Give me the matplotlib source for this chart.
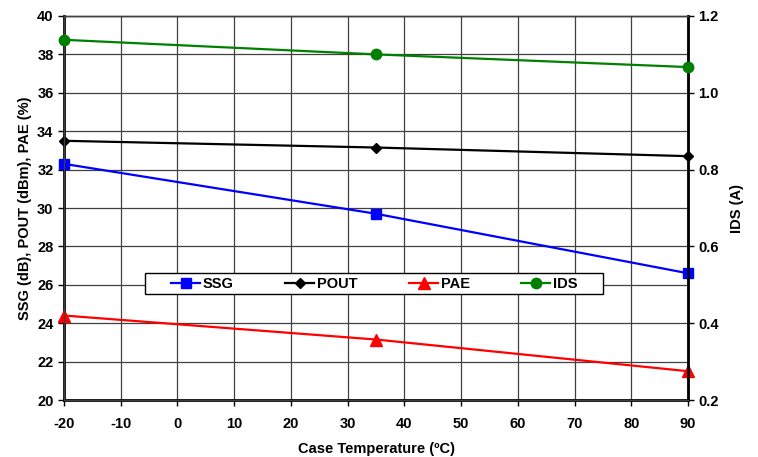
import matplotlib
matplotlib.use("Agg")
import matplotlib.pyplot as plt
from matplotlib.ticker import FormatStrFormatter
from matplotlib.patches import Rectangle

temps = [-20, 35, 90]
ssg = [32.3, 29.7, 26.6]
pout = [33.5, 33.15, 32.7]
pae = [24.4, 23.15, 21.5]
ids = [1.138, 1.10, 1.067]

plt.rcParams['font.family'] = ['Liberation Sans', 'DejaVu Sans']
plt.rcParams['font.weight'] = 'bold'
plt.rcParams['font.size'] = 9
plt.rcParams['axes.unicode_minus'] = False

fig = plt.figure(figsize=(7.58, 4.57), dpi=100)
ax = fig.add_axes([0.0844, 0.1247, 0.8233, 0.8403])
ax2 = ax.twinx()

l1, = ax.plot(temps, ssg, color='#0000FF', marker='s', ms=7, lw=1.6, label='SSG', clip_on=False, zorder=5)
l2, = ax.plot(temps, pout, color='black', marker='D', ms=5.5, lw=1.6, label='POUT', clip_on=False, zorder=5)
l3, = ax.plot(temps, pae, color='#FF0000', marker='^', ms=8, lw=1.6, label='PAE', clip_on=False, zorder=5)
l4, = ax2.plot(temps, ids, color='#008000', marker='o', ms=7.5, lw=1.6, label='IDS', clip_on=False, zorder=5)

ax.set_xlim(-20, 90)
ax.set_ylim(20, 40)
ax2.set_ylim(0.2, 1.2)
ax.set_xticks(range(-20, 91, 10))
ax.set_yticks(range(20, 41, 2))
ax2.set_yticks([0.2, 0.4, 0.6, 0.8, 1.0, 1.2])
ax2.yaxis.set_major_formatter(FormatStrFormatter('%.1f'))

ax.grid(True, color='#404040', lw=0.9)
ax.set_axisbelow(True)
for a in (ax, ax2):
    for s in a.spines.values():
        s.set_linewidth(1.0)
        s.set_color('#404040')
ax.spines['left'].set_linewidth(2.0)
ax.spines['left'].set_color('black')
ax2.spines['right'].set_linewidth(2.0)
ax2.spines['right'].set_color('black')
ax.spines['bottom'].set_linewidth(2.0)
ax.spines['bottom'].set_color('black')

ax.tick_params(axis='both', direction='out', length=4, width=1, labelsize=10.5)
ax.tick_params(axis='x', pad=8)
ax2.tick_params(axis='y', direction='out', length=4, width=1, labelsize=10.5)

ax.set_xlabel('Case Temperature (ºC)', fontsize=10.5, fontweight='bold', labelpad=8)
ax.set_ylabel('SSG (dB), POUT (dBm), PAE (%)', fontsize=10.5, fontweight='bold', labelpad=4)
ax2.set_ylabel('IDS (A)', fontsize=10.5, fontweight='bold', labelpad=8)

# legend frame
box = Rectangle((0.1298, 0.276), 0.734, 0.0547, transform=ax2.transAxes,
                facecolor='white', edgecolor='black', lw=1.0, zorder=6, clip_on=False)
ax2.add_patch(box)
leg = ax2.legend(handles=[l1, l2, l3, l4], ncol=4, loc='center',
                 bbox_to_anchor=(0.1715, 0.283, 0.652, 0.04), mode='expand',
                 frameon=False, fontsize=10.5, borderpad=0, borderaxespad=0,
                 handlelength=2.0, handletextpad=0.2, columnspacing=1.0)
leg.set_zorder(7)

fig.savefig('out.png', dpi=100)
